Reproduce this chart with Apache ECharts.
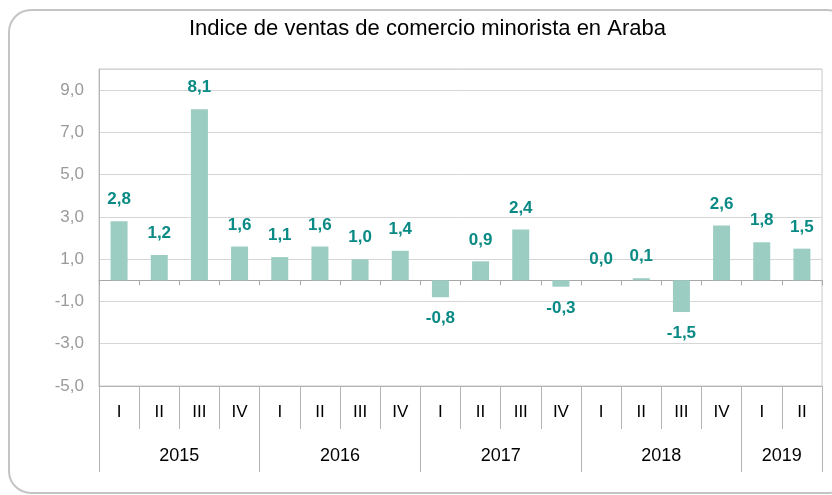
<!DOCTYPE html>
<html>
<head>
<meta charset="utf-8">
<script src="https://cdn.jsdelivr.net/npm/echarts@6/dist/echarts.min.js"></script>
<style>
  html, body { margin: 0; padding: 0; background: #fff; }
  #chart { width: 832px; height: 495px; }
</style>
</head>
<body>
<div id="chart"></div>
<script>
// datos del gráfico
const quarters = ['I', 'II', 'III', 'IV', 'I', 'II', 'III', 'IV', 'I', 'II', 'III', 'IV', 'I', 'II', 'III', 'IV', 'I', 'II'];
const values = [2.8, 1.2, 8.1, 1.6, 1.1, 1.6, 1.0, 1.4, -0.8, 0.9, 2.4, -0.3, 0.0, 0.1, -1.5, 2.6, 1.8, 1.5];
const years = ['2015', '2016', '2017', '2018', '2019'];
const yearStarts = [0, 4, 8, 12, 16, 18];
const yTicks = [-5, -3, -1, 1, 3, 5, 7, 9];

const fmt = (v) => v.toFixed(1).replace('.', ',');
const yearMids = years.map((y, i) => (yearStarts[i] + yearStarts[i + 1]) / 2);

const chart = echarts.init(document.getElementById('chart'));
chart.setOption({
  animation: false,
  textStyle: { fontFamily: 'Liberation Sans, Arial, sans-serif' },
  title: {
    text: 'Indice de ventas de comercio minorista en Araba',
    left: 184,
    top: 13,
    textStyle: { fontSize: 22, fontWeight: 'normal', color: '#000' },
  },
  graphic: [{
    type: 'rect',
    shape: { x: 9, y: 10, width: 840, height: 483, r: 22 },
    style: { fill: 'none', stroke: '#c4c4c4', lineWidth: 2 },
    z: -1,
  }],
  grid: {
    left: 99, right: 10, top: 69, bottom: 109,
    show: true, borderColor: '#c8c8c8', borderWidth: 1,
  },
  xAxis: [
    {
      // trimestres
      type: 'category',
      data: quarters,
      position: 'bottom',
      axisLine: { onZero: false, lineStyle: { color: '#b4b4b4' } },
      axisTick: { show: true, interval: 0, length: 43, lineStyle: { color: '#b4b4b4' } },
      axisLabel: { interval: 0, margin: 18, color: '#000', fontSize: 17 },
    },
    {
      // años
      type: 'value',
      min: 0,
      max: 18,
      position: 'bottom',
      splitLine: { show: false },
      axisLine: { onZero: false, show: false },
      axisTick: { show: true, customValues: yearStarts, length: 86, lineStyle: { color: '#b4b4b4' } },
      axisLabel: {
        customValues: yearMids,
        margin: 61,
        color: '#000',
        fontSize: 18,
        formatter: (v) => years[yearMids.indexOf(v)] || '',
      },
    },
    {
      // línea de cero
      type: 'category',
      data: quarters,
      position: 'bottom',
      axisLine: { onZero: true, lineStyle: { color: '#a8a8a8' } },
      axisTick: { show: true, interval: 0, length: 5, lineStyle: { color: '#a8a8a8' } },
      axisLabel: { show: false },
    },
  ],
  yAxis: {
    type: 'value',
    min: -5,
    max: 10,
    interval: 2,
    axisLine: { show: true, lineStyle: { color: '#b4b4b4' } },
    axisTick: { show: false },
    splitLine: { lineStyle: { color: '#d6d6d6' } },
    axisLabel: {
      color: '#9a9a9a',
      fontSize: 17,
      margin: 15,
      showMaxLabel: false,
      formatter: (v) => (yTicks.includes(v) ? fmt(v) : ''),
    },
  },
  series: [{
    type: 'bar',
    xAxisIndex: 0,
    barWidth: 17,
    itemStyle: { color: '#9bcdc3' },
    data: values.map((v) => ({
      value: v,
      label: { position: v >= 0 ? 'top' : 'bottom' },
    })),
    label: {
      show: true,
      distance: 13,
      color: '#0a8a84',
      fontWeight: 'bold',
      fontSize: 17,
      formatter: (p) => fmt(p.value),
    },
  }],
});
</script>
</body>
</html>
